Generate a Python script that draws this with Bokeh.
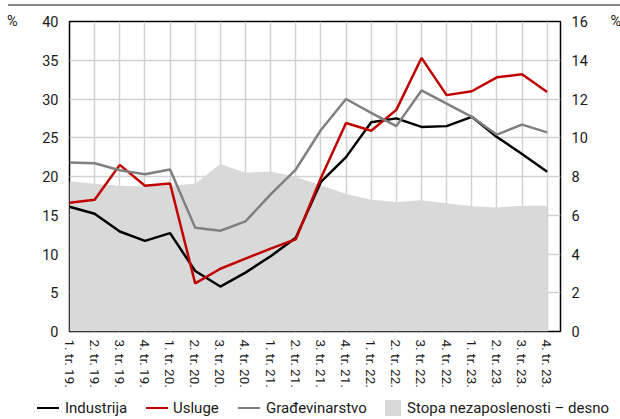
import numpy as np
from bokeh.plotting import figure
from bokeh.layouts import column
from bokeh.models import FixedTicker, LinearAxis, Range1d, Div
from bokeh.embed import file_html
from bokeh.resources import INLINE

# ---------------- data ----------------
categories = ["1. tr. 19.", "2. tr. 19.", "3. tr. 19.", "4. tr. 19.",
              "1. tr. 20.", "2. tr. 20.", "3. tr. 20.", "4. tr. 20.",
              "1. tr. 21.", "2. tr. 21.", "3. tr. 21.", "4. tr. 21.",
              "1. tr. 22.", "2. tr. 22.", "3. tr. 22.", "4. tr. 22.",
              "1. tr. 23.", "2. tr. 23.", "3. tr. 23.", "4. tr. 23."]
industrija = [16.1, 15.2, 12.9, 11.7, 12.7, 7.8, 5.8, 7.6, 9.7, 12.1,
              19.3, 22.5, 27.0, 27.5, 26.4, 26.5, 27.7, 25.1, 22.9, 20.6]
usluge = [16.6, 17.0, 21.5, 18.8, 19.1, 6.2, 8.1, 9.4, 10.7, 11.9,
          19.8, 26.9, 25.9, 28.6, 35.3, 30.5, 31.0, 32.8, 33.2, 30.9]
gradjevinarstvo = [21.8, 21.7, 20.8, 20.3, 20.9, 13.4, 13.0, 14.2, 17.7, 20.9,
                   26.0, 30.0, 28.2, 26.5, 31.1, 29.4, 27.7, 25.4, 26.7, 25.7]
nezaposlenost = [7.76, 7.62, 7.52, 7.50, 7.52, 7.62, 8.65, 8.19, 8.26, 7.97,
                 7.55, 7.10, 6.80, 6.69, 6.78, 6.62, 6.47, 6.40, 6.49, 6.49]
left_ticks = [0, 5, 10, 15, 20, 25, 30, 35, 40]
right_ticks = [0, 2, 4, 6, 8, 10, 12, 14, 16]
unit_label = "%"
legend_labels = ["Industrija", "Usluge", "Građevinarstvo",
                 "Stopa nezaposlenosti – desno"]

FONT = "Roboto"
TXT = "#1a1a1a"
COLORS = ["#000000", "#c00000", "#808080"]
AREA_COLOR = "#d9d9d9"

x = np.arange(len(categories))

# ---------------- header rule ----------------
head = Div(text="", width=612, height=2, margin=(4, 0, 2, 8),
           styles={"background-color": "#858585"})

# ---------------- main chart ----------------
p = figure(width=620, height=382, output_backend="svg", toolbar_location=None,
           x_range=Range1d(0, 19.53), y_range=Range1d(0, 40),
           frame_width=491, frame_height=310,
           min_border_left=69, min_border_right=60,
           min_border_top=13, min_border_bottom=59, margin=0)
p.extra_y_ranges = {"right": Range1d(0, 16)}

p.outline_line_color = "black"
p.outline_line_width = 1.5

p.xgrid.ticker = FixedTicker(ticks=list(range(1, len(categories))))
p.ygrid.ticker = FixedTicker(ticks=left_ticks)
for g in (p.xgrid, p.ygrid):
    g.grid_line_color = "#d2d2d2"
    g.grid_line_width = 1.5

xa = p.xaxis[0]
xa.ticker = FixedTicker(ticks=list(x))
xa.major_label_overrides = {int(i): c for i, c in zip(x, categories)}
xa.major_label_orientation = "vertical"

ya = p.yaxis[0]
ya.ticker = FixedTicker(ticks=left_ticks)

ra = LinearAxis(y_range_name="right", ticker=FixedTicker(ticks=right_ticks))
p.add_layout(ra, "right")

# unit "%" shown as the label of an extra axis at the top tick
lu = LinearAxis(ticker=FixedTicker(ticks=[left_ticks[-1]]),
                major_label_overrides={left_ticks[-1]: unit_label})
p.add_layout(lu, "left")
ru = LinearAxis(y_range_name="right", ticker=FixedTicker(ticks=[right_ticks[-1]]),
                major_label_overrides={right_ticks[-1]: unit_label})
p.add_layout(ru, "right")

for ax in (xa, ya, ra, lu, ru):
    ax.axis_line_color = None
    ax.major_tick_line_color = None
    ax.minor_tick_line_color = None
    ax.major_tick_out = 0
    ax.major_tick_in = 0
    ax.minor_tick_out = 0
    ax.minor_tick_in = 0
    ax.major_label_text_font = FONT
    ax.major_label_text_font_size = "14.5px"
    ax.major_label_text_color = TXT
xa.major_label_text_font_size = "13.5px"
xa.major_label_standoff = 8
ya.major_label_standoff = 11
ra.major_label_standoff = 11
lu.major_label_standoff = 22
ru.major_label_standoff = 20

p.varea(x=x, y1=0, y2=nezaposlenost, y_range_name="right", fill_color=AREA_COLOR)
p.line(x, industrija, line_color=COLORS[0], line_width=2.5)
p.line(x, usluge, line_color=COLORS[1], line_width=2.5)
p.line(x, gradjevinarstvo, line_color=COLORS[2], line_width=2.5)

# ---------------- legend (HTML strip under the chart) ----------------
swatch_left = [37, 146, 238, 385]
text_left = [65, 173, 266, 407]
parts = []
for i, lab in enumerate(legend_labels):
    if i < 3:
        sw = (f'<span style="position:absolute;left:{swatch_left[i]}px;top:16.5px;'
              f'width:22px;height:2.6px;background:{COLORS[i]}"></span>')
    else:
        sw = (f'<span style="position:absolute;left:{swatch_left[i]}px;top:10px;'
              f'width:16px;height:16px;background:{AREA_COLOR}"></span>')
    tx = (f'<span style="position:absolute;left:{text_left[i]}px;top:8px;'
          f'line-height:20px;white-space:nowrap">{lab}</span>')
    parts.append(sw + tx)
legend_html = (f'<div style="position:relative;width:620px;height:29px;'
               f'font-family:{FONT};font-size:15px;color:{TXT}">'
               + "".join(parts) + '</div>')
legend_div = Div(text=legend_html, width=620, height=29, margin=0)

layout = column(head, p, legend_div, spacing=0)
open("out.html", "w").write(file_html(layout, INLINE))
